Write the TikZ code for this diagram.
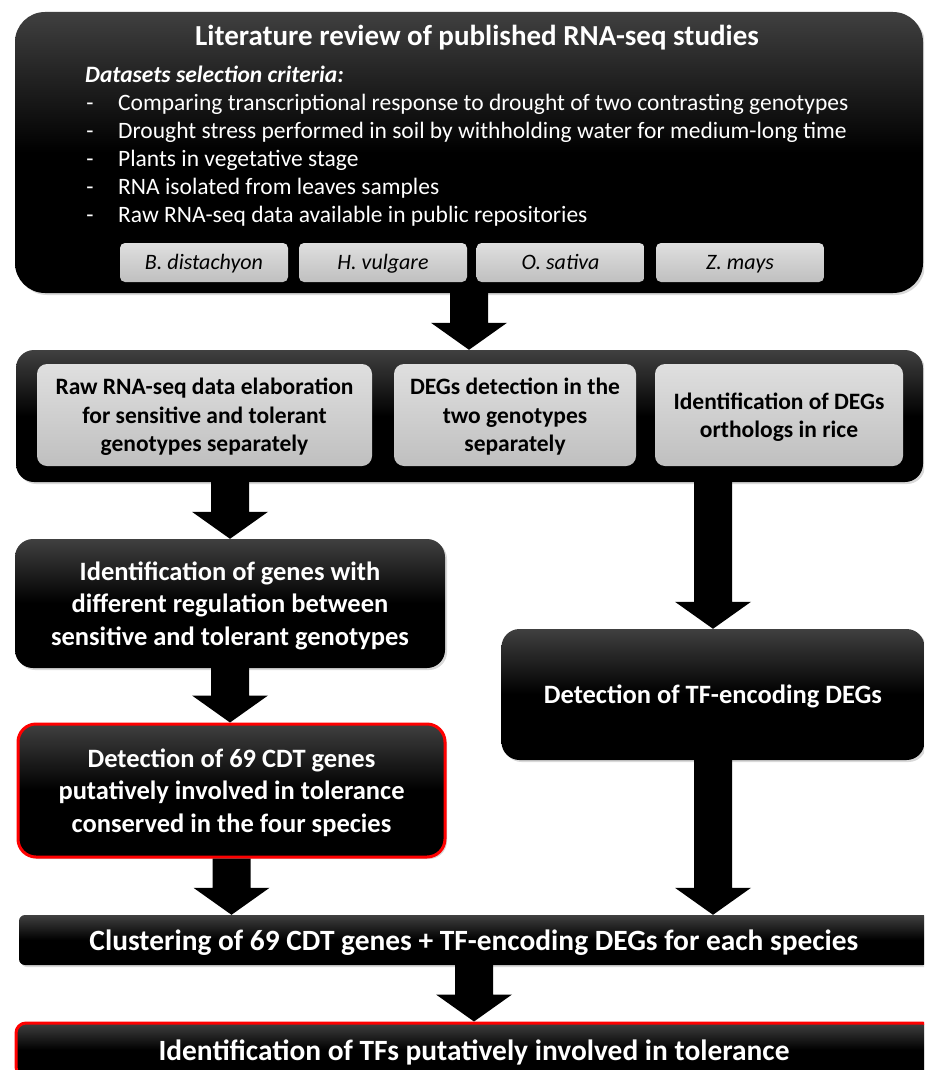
\documentclass[tikz,border=0pt]{standalone}
\usepackage{fontspec}
\setmainfont{Carlito}
\usetikzlibrary{calc,shadows}
\def\fatarrow(#1)(#2){\fill[black] let \p1=(#1), \p2=(#2) in (\x1-19pt,\y1) -- (\x1-19pt,\y2+27pt) -- (\x1-38pt,\y2+27pt) -- (\x1,\y2) -- (\x1+38pt,\y2+27pt) -- (\x1+19pt,\y2+27pt) -- (\x1+19pt,\y1) -- cycle;}
\tikzset{
	darkbox/.style={rectangle, rounded corners=18pt, top color=black!75, bottom color=black, middle color=black, text=white, align=center, inner sep=0pt, text depth=0pt, font=\bfseries\fontsize{26.5}{32.5}\selectfont, drop shadow={shadow xshift=2pt, shadow yshift=-2pt, opacity=0.3}},
	greybox/.style={rectangle, rounded corners=10pt, top color=gray!25, bottom color=gray!50, text=black, align=center, inner sep=0pt, text depth=0pt, font=\bfseries\fontsize{23.5}{28.5}\selectfont},
	specbox/.style={greybox, rounded corners=5pt, text height=17pt, text depth=3pt, font=\itshape\fontsize{22}{26}\selectfont},
	redrim/.style={draw=red, line width=3pt},
	plain/.style={text=white, inner sep=0pt, text height=18pt, text depth=3pt, font=\fontsize{23.5}{28}\selectfont},
}

\begin{document}
\begin{tikzpicture}[x=1pt, y=-1pt]
			%%%%% START %%%%%
			\useasboundingbox (0,0) rectangle (924,1070);
			\clip (0,0) rectangle (924,1070);
			
			% literature review
			\node[darkbox, rounded corners=30pt, minimum width=908pt, minimum height=281pt] (lit) at (469,152.5) {};
			\node[plain, text height=23pt, text depth=3pt, font=\bfseries\fontsize{29}{34}\selectfont] (title) at (477,36) {Literature review of published RNA-seq studies};
			\node[plain, anchor=west, font=\bfseries\itshape\fontsize{23.5}{28}\selectfont] (crit) at (85,75) {Datasets selection criteria:};
			\foreach \y/\txt [count=\i] in {103/Comparing transcriptional response to drought of two contrasting genotypes,
					131/Drought stress performed in soil by withholding water for medium-long time,
					159/Plants in vegetative stage,
					187/RNA isolated from leaves samples,
					215/Raw RNA-seq data available in public repositories}{
				\node[plain] (dash\i) at (90,\y) {-};
				\node[plain, anchor=west] (crit\i) at (118,\y) {\txt};
			}
			
			\node[specbox, minimum width=168pt, minimum height=39pt] (bdis) at (204,262.5) {B. distachyon};
			\node[specbox, minimum width=168pt, minimum height=39pt] (hvul) at (383,262.5) {H. vulgare};
			\node[specbox, minimum width=168pt, minimum height=39pt] (osat) at (560.5,262.5) {O. sativa};
			\node[specbox, minimum width=168pt, minimum height=39pt] (zmay) at (740,262.5) {Z. mays};
			
			% elaboration steps
			\node[darkbox, minimum width=907pt, minimum height=132pt] (mid) at (469.5,416) {};
			\node[greybox, minimum width=335pt, minimum height=102pt] (raw) at (204.5,415) {Raw RNA-seq data elaboration\\for sensitive and tolerant\\genotypes separately};
			\node[greybox, minimum width=242pt, minimum height=102pt] (degs) at (515,415) {DEGs detection in the\\two genotypes\\separately};
			\node[greybox, minimum width=248pt, minimum height=102pt] (orth) at (779,415) {Identification of DEGs\\orthologs in rice};
			
			\node[darkbox, minimum width=430pt, minimum height=129pt] (gen) at (230,603.5) {Identification of genes with\\different regulation between\\sensitive and tolerant genotypes};
			\node[darkbox, minimum width=423pt, minimum height=131pt] (tf) at (713,694.5) {Detection of TF-encoding DEGs};
			\node[darkbox, redrim, minimum width=427pt, minimum height=133pt] (cdt) at (231.5,790.5) {Detection of 69 CDT genes\\putatively involved in tolerance\\conserved in the four species};
			\node[darkbox, rounded corners=6pt, minimum width=910pt, minimum height=50pt, font=\bfseries\fontsize{29.4}{34}\selectfont] (clu) at (474,940) {Clustering of 69 CDT genes + TF-encoding DEGs for each species};
			\node[darkbox, redrim, rounded corners=10pt, minimum width=916pt, minimum height=54pt, font=\bfseries\fontsize{29.4}{34}\selectfont] (tol) at (474,1050) {Identification of TFs putatively involved in tolerance};
			
			% arrows
			\fatarrow(lit.south)(mid.north)
			\fatarrow(gen.north |- mid.south)(gen.north)
			\fatarrow(tf.north |- mid.south)(tf.north)
			\fatarrow(gen.south)(cdt.north)
			\fatarrow(cdt.south)(cdt.south |- clu.north)
			\fatarrow(tf.south)(tf.south |- clu.north)
			\fatarrow(clu.south)(tol.north)
			%%%%% END %%%%%
		\end{tikzpicture}
\end{document}
